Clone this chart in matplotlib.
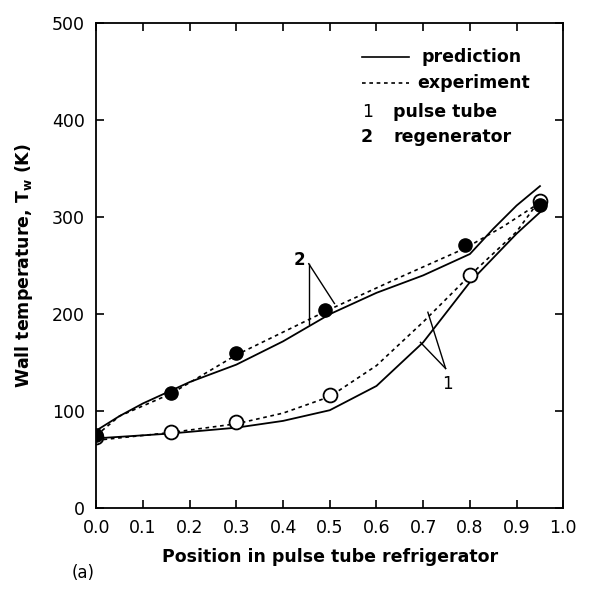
import matplotlib.pyplot as plt
import numpy as np

# measured points
x_pts = [0.0, 0.16, 0.30, 0.49, 0.79, 0.95]
regen_pts = [75, 119, 160, 204, 271, 313]
x_pts_pt = [0.0, 0.16, 0.30, 0.50, 0.80, 0.95]
tube_pts = [73, 79, 89, 117, 240, 317]

# curves (prediction = solid, experiment = dashed)
x_regen_pred = [0.0, 0.05, 0.1, 0.2, 0.3, 0.4, 0.5, 0.6, 0.7, 0.8, 0.85, 0.9, 0.95]
regen_pred = [80, 95, 108, 130, 148, 172, 200, 222, 240, 262, 288, 312, 332]
x_regen_exp = [0.0, 0.05, 0.16, 0.3, 0.5, 0.65, 0.79, 0.87, 0.95]
regen_exp = [75, 95, 118, 158, 205, 238, 268, 290, 315]
x_tube_pred = [0.0, 0.16, 0.3, 0.4, 0.5, 0.6, 0.7, 0.8, 0.9, 0.95]
tube_pred = [72, 77, 83, 90, 101, 126, 171, 233, 283, 305]
x_tube_exp = [0.0, 0.16, 0.3, 0.4, 0.5, 0.6, 0.7, 0.8, 0.9, 0.95]
tube_exp = [70, 78, 87, 98, 115, 147, 192, 240, 285, 318]

fig = plt.figure(figsize=(6.09, 5.93), dpi=100)
ax = fig.add_axes([0.158, 0.143, 0.767, 0.818])

dash = (2.2, 2.2)
ax.plot(x_regen_pred, regen_pred, 'k-', lw=1.3)
ax.plot(x_regen_exp, regen_exp, 'k--', lw=1.2, dashes=dash)
ax.plot(x_tube_pred, tube_pred, 'k-', lw=1.3)
ax.plot(x_tube_exp, tube_exp, 'k--', lw=1.2, dashes=dash)
ax.plot(x_pts_pt, tube_pts, 'o', ms=10, mfc='white', mec='black', mew=1.3)
ax.plot(x_pts, regen_pts, 'o', ms=9.5, mfc='black', mec='black')

# callouts
ax.plot([0.455, 0.455], [252, 190], 'k-', lw=1)
ax.plot([0.455, 0.51], [252, 211], 'k-', lw=1)
ax.text(0.447, 256, '2', fontsize=12, fontweight='bold', ha='right', va='center')
ax.plot([0.748, 0.71], [144, 202], 'k-', lw=1)
ax.plot([0.748, 0.694], [144, 171], 'k-', lw=1)
ax.text(0.752, 128, '1', fontsize=12, ha='center', va='center')

# legend drawn by hand
tr = ax.transAxes
ax.plot([0.57, 0.67], [0.930, 0.930], 'k-', lw=1.2, transform=tr)
ax.plot([0.57, 0.67], [0.876, 0.876], 'k--', lw=1.2, dashes=dash, transform=tr)
ax.text(0.696, 0.930, 'prediction', transform=tr, fontsize=12.5, fontweight='bold', va='center')
ax.text(0.688, 0.876, 'experiment', transform=tr, fontsize=12.5, fontweight='bold', va='center')
ax.text(0.58, 0.816, '1', transform=tr, fontsize=12.5, va='center', ha='center')
ax.text(0.636, 0.816, 'pulse tube', transform=tr, fontsize=12.5, fontweight='bold', va='center')
ax.text(0.58, 0.765, '2', transform=tr, fontsize=12.5, fontweight='bold', va='center', ha='center')
ax.text(0.636, 0.765, 'regenerator', transform=tr, fontsize=12.5, fontweight='bold', va='center')

ax.set_xlim(0, 1.0)
ax.set_ylim(0, 500)
ax.set_xticks(np.arange(0, 1.01, 0.1))
ax.set_xticklabels(['%.1f' % v for v in np.arange(0, 1.01, 0.1)])
ax.set_yticks([0, 100, 200, 300, 400, 500])
ax.tick_params(direction='in', length=6, width=1.2, top=True, right=True, labelsize=12.5, pad=8)
for s in ax.spines.values():
    s.set_linewidth(1.3)

ax.set_xlabel('Position in pulse tube refrigerator', fontsize=12.5, fontweight='bold', labelpad=8)
ax.set_ylabel(r'Wall temperature, $\mathbf{T_w}$ (K)', fontsize=12.5, fontweight='bold', labelpad=12)
fig.text(0.118, 0.025, '(a)', fontsize=12)

fig.savefig('out.png', dpi=100)
